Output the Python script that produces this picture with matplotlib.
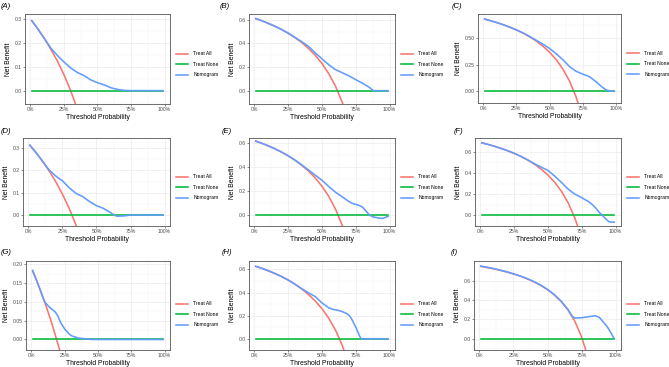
import numpy as np
import matplotlib
matplotlib.use("Agg")
import matplotlib.pyplot as plt
from matplotlib.ticker import MultipleLocator, FixedLocator

plt.rcParams['font.family'] = ['Liberation Sans', 'DejaVu Sans']

# ---------------- data ----------------
labels = ["(A)", "(B)", "(C)", "(D)", "(E)", "(F)", "(G)", "(H)", "(I)"]
series_names = ["Treat All", "Treat None", "Nomogram"]

# Treat All curves
all_A_x = [0.01, 0.05, 0.10, 0.15, 0.20, 0.25, 0.30, 0.35]
all_A_y = [0.293, 0.263, 0.222, 0.176, 0.125, 0.067, 0.0, -0.077]
all_B_x = [0.01, 0.05, 0.10, 0.15, 0.20, 0.25, 0.30, 0.35, 0.40, 0.45, 0.50, 0.55, 0.60, 0.65, 0.68]
all_B_y = [0.611, 0.595, 0.572, 0.547, 0.519, 0.487, 0.450, 0.408, 0.358, 0.300, 0.230, 0.144, 0.038, -0.100, -0.203]
all_C_x = [0.01, 0.05, 0.10, 0.15, 0.20, 0.25, 0.30, 0.35, 0.40, 0.45, 0.50, 0.55, 0.60, 0.65, 0.70, 0.73]
all_C_y = [0.682, 0.668, 0.650, 0.629, 0.606, 0.580, 0.550, 0.515, 0.475, 0.427, 0.370, 0.300, 0.2125, 0.100, -0.050, -0.167]
all_D_x = [0.01, 0.05, 0.10, 0.15, 0.20, 0.25, 0.30, 0.35, 0.38]
all_D_y = [0.313, 0.284, 0.244, 0.200, 0.150, 0.093, 0.029, -0.046, -0.097]
all_E_x = [0.01, 0.05, 0.10, 0.15, 0.20, 0.25, 0.30, 0.35, 0.40, 0.45, 0.50, 0.55, 0.60, 0.65, 0.68]
all_E_y = [0.616, 0.600, 0.578, 0.553, 0.525, 0.493, 0.457, 0.415, 0.367, 0.309, 0.240, 0.156, 0.050, -0.086, -0.188]
all_F_x = [0.01, 0.05, 0.10, 0.15, 0.20, 0.25, 0.30, 0.35, 0.40, 0.45, 0.50, 0.55, 0.60, 0.65, 0.70, 0.73]
all_F_y = [0.687, 0.674, 0.656, 0.635, 0.613, 0.587, 0.557, 0.523, 0.483, 0.436, 0.380, 0.311, 0.225, 0.114, -0.033, -0.148]
all_G_x = [0.01, 0.05, 0.10, 0.15, 0.20, 0.22]
all_G_y = [0.182, 0.147, 0.100, 0.047, -0.0125, -0.038]
all_H_x = [0.01, 0.05, 0.10, 0.15, 0.20, 0.25, 0.30, 0.35, 0.40, 0.45, 0.50, 0.55, 0.60, 0.65, 0.68]
all_H_y = [0.626, 0.611, 0.589, 0.565, 0.538, 0.507, 0.471, 0.431, 0.383, 0.327, 0.260, 0.178, 0.075, -0.057, -0.156]
all_I_x = [0.01, 0.05, 0.10, 0.15, 0.20, 0.25, 0.30, 0.35, 0.40, 0.45, 0.50, 0.55, 0.60, 0.65, 0.70, 0.75, 0.78, 0.80]
all_I_y = [0.752, 0.742, 0.728, 0.712, 0.694, 0.673, 0.650, 0.623, 0.592, 0.555, 0.510, 0.456, 0.388, 0.300, 0.183, 0.020, -0.114, -0.225]

# Treat None
none_x = [0.01, 0.99]
none_y = [0.0, 0.0]

# Nomogram curves
nomo_A_x = [0.01, 0.05, 0.10, 0.15, 0.20, 0.25, 0.30, 0.35, 0.40, 0.45, 0.50, 0.55, 0.60, 0.65, 0.70, 0.75, 0.99]
nomo_A_y = [0.293, 0.263, 0.222, 0.180, 0.148, 0.120, 0.095, 0.076, 0.063, 0.045, 0.033, 0.024, 0.012, 0.005, 0.001, 0.0, 0.0]
nomo_B_x = [0.01, 0.05, 0.10, 0.15, 0.20, 0.25, 0.30, 0.35, 0.40, 0.45, 0.50, 0.55, 0.60, 0.65, 0.70, 0.75, 0.80, 0.85, 0.88, 0.99]
nomo_B_y = [0.611, 0.595, 0.572, 0.547, 0.519, 0.488, 0.452, 0.415, 0.375, 0.320, 0.270, 0.220, 0.178, 0.152, 0.125, 0.093, 0.063, 0.028, 0.0, 0.0]
nomo_C_x = [0.01, 0.05, 0.10, 0.15, 0.20, 0.25, 0.30, 0.35, 0.40, 0.45, 0.50, 0.55, 0.60, 0.65, 0.70, 0.75, 0.80, 0.85, 0.90, 0.93, 0.96, 0.99]
nomo_C_y = [0.682, 0.668, 0.650, 0.629, 0.606, 0.580, 0.551, 0.518, 0.482, 0.445, 0.405, 0.355, 0.300, 0.235, 0.190, 0.163, 0.140, 0.092, 0.038, 0.012, 0.002, 0.0]
nomo_D_x = [0.01, 0.05, 0.10, 0.15, 0.20, 0.25, 0.30, 0.35, 0.40, 0.45, 0.50, 0.55, 0.60, 0.63, 0.65, 0.70, 0.75, 0.99]
nomo_D_y = [0.313, 0.284, 0.244, 0.203, 0.175, 0.153, 0.122, 0.097, 0.082, 0.060, 0.042, 0.030, 0.012, 0.0, -0.005, -0.004, 0.0, 0.0]
nomo_E_x = [0.01, 0.05, 0.10, 0.15, 0.20, 0.25, 0.30, 0.35, 0.40, 0.45, 0.50, 0.55, 0.60, 0.65, 0.70, 0.73, 0.77, 0.80, 0.83, 0.85, 0.88, 0.92, 0.95, 0.98, 0.99]
nomo_E_y = [0.616, 0.600, 0.578, 0.553, 0.525, 0.494, 0.458, 0.418, 0.376, 0.332, 0.290, 0.238, 0.190, 0.152, 0.112, 0.095, 0.083, 0.066, 0.028, 0.0, -0.016, -0.025, -0.028, -0.014, -0.010]
nomo_F_x = [0.01, 0.05, 0.10, 0.15, 0.20, 0.25, 0.30, 0.35, 0.40, 0.45, 0.50, 0.55, 0.60, 0.65, 0.70, 0.75, 0.80, 0.83, 0.85, 0.88, 0.90, 0.93, 0.95, 0.97, 0.99]
nomo_F_y = [0.687, 0.674, 0.656, 0.635, 0.613, 0.587, 0.558, 0.525, 0.488, 0.455, 0.425, 0.370, 0.310, 0.245, 0.198, 0.165, 0.128, 0.097, 0.072, 0.024, 0.0, -0.040, -0.062, -0.067, -0.067]
nomo_G_x = [0.01, 0.05, 0.10, 0.13, 0.15, 0.18, 0.20, 0.22, 0.25, 0.28, 0.30, 0.35, 0.40, 0.45, 0.99]
nomo_G_y = [0.184, 0.148, 0.100, 0.088, 0.082, 0.073, 0.062, 0.045, 0.028, 0.016, 0.010, 0.004, 0.002, 0.0, 0.0]
nomo_H_x = [0.01, 0.05, 0.10, 0.15, 0.20, 0.25, 0.30, 0.35, 0.40, 0.45, 0.50, 0.55, 0.58, 0.62, 0.65, 0.68, 0.70, 0.72, 0.75, 0.78, 0.79, 0.99]
nomo_H_y = [0.626, 0.611, 0.589, 0.565, 0.538, 0.508, 0.472, 0.433, 0.397, 0.365, 0.310, 0.268, 0.255, 0.246, 0.235, 0.220, 0.205, 0.170, 0.100, 0.020, 0.0, 0.0]
nomo_I_x = [0.01, 0.05, 0.10, 0.15, 0.20, 0.25, 0.30, 0.35, 0.40, 0.45, 0.50, 0.55, 0.60, 0.65, 0.68, 0.70, 0.75, 0.80, 0.85, 0.88, 0.90, 0.93, 0.95, 0.97, 0.99]
nomo_I_y = [0.755, 0.745, 0.730, 0.714, 0.696, 0.675, 0.652, 0.625, 0.594, 0.557, 0.512, 0.458, 0.390, 0.305, 0.235, 0.215, 0.218, 0.228, 0.238, 0.222, 0.190, 0.140, 0.100, 0.050, 0.0]

all_x = [all_A_x, all_B_x, all_C_x, all_D_x, all_E_x, all_F_x, all_G_x, all_H_x, all_I_x]
all_y = [all_A_y, all_B_y, all_C_y, all_D_y, all_E_y, all_F_y, all_G_y, all_H_y, all_I_y]
nomo_x = [nomo_A_x, nomo_B_x, nomo_C_x, nomo_D_x, nomo_E_x, nomo_F_x, nomo_G_x, nomo_H_x, nomo_I_x]
nomo_y = [nomo_A_y, nomo_B_y, nomo_C_y, nomo_D_y, nomo_E_y, nomo_F_y, nomo_G_y, nomo_H_y, nomo_I_y]

yticks = [
    [0.0, 0.1, 0.2, 0.3],
    [0.0, 0.2, 0.4, 0.6],
    [0.0, 0.25, 0.5],
    [0.0, 0.1, 0.2, 0.3],
    [0.0, 0.2, 0.4, 0.6],
    [0.0, 0.2, 0.4, 0.6],
    [0.0, 0.05, 0.10, 0.15, 0.20],
    [0.0, 0.2, 0.4, 0.6],
    [0.0, 0.2, 0.4, 0.6],
]
ytick_fmt = ["%.1f", "%.1f", "%.2f", "%.1f", "%.1f", "%.1f", "%.2f", "%.1f", "%.1f"]
xticks = [0.0, 0.25, 0.5, 0.75, 1.0]
xtick_labels = ["0%", "25%", "50%", "75%", "100%"]

# ---------------- layout ----------------
W, H = 669, 367
fig = plt.figure(figsize=(W / 100, H / 100), dpi=100)

# axes frames in pixels: left, top, right, bottom
frames = [
    (25, 14, 170, 104), (249, 14, 395, 104), (478, 14, 621, 103),
    (23, 138, 170, 226), (249, 138, 395, 226), (475, 138, 621, 226),
    (26, 261, 170, 350), (249, 261, 395, 350), (474, 261, 621, 350),
]
ylims = [
    (-0.056, 0.321), (-0.113, 0.65), (-0.11, 0.73),
    (-0.049, 0.345), (-0.091, 0.642), (-0.104, 0.733),
    (-0.028, 0.209), (-0.096, 0.672), (-0.118, 0.808),
]
title_pos = [(1, 6), (220, 6), (452, 6), (1, 131), (222, 131), (454, 131), (1, 253), (222, 253), (451, 253)]
legend_y = [0.44, 0.44, 0.44, 0.44, 0.44, 0.44, 0.40, 0.40, 0.40]

c_all = "#F8766D"
c_none = "#00BA38"
c_nomo = "#619CFF"

for i in range(9):
    l, t, r, b = frames[i]
    ax = fig.add_axes([l / W, 1 - b / H, (r - l) / W, (b - t) / H])
    ax.plot(all_x[i], all_y[i], color=c_all, lw=1.15, label=series_names[0])
    ax.plot(none_x, none_y, color=c_none, lw=1.15, label=series_names[1])
    ax.plot(nomo_x[i], nomo_y[i], color=c_nomo, lw=1.15, label=series_names[2])
    ax.set_xlim(-0.04, 1.04)
    ax.set_ylim(*ylims[i])
    ax.xaxis.set_major_locator(FixedLocator(xticks))
    ax.set_xticklabels(xtick_labels)
    ax.xaxis.set_minor_locator(MultipleLocator(0.125))
    yt = yticks[i]
    ax.yaxis.set_major_locator(FixedLocator(yt))
    ax.set_yticklabels([ytick_fmt[i] % v for v in yt])
    step = yt[1] - yt[0]
    ax.yaxis.set_minor_locator(FixedLocator([yt[0] - step / 2] + [v + step / 2 for v in yt]))
    ax.grid(True, which='major', color='#EBEBEB', lw=0.5)
    ax.grid(True, which='minor', color='#F4F4F4', lw=0.3)
    ax.set_axisbelow(True)
    ax.tick_params(which='major', length=1.5, width=0.4, color='#333333', labelsize=3.7,
                   labelcolor='#4D4D4D', pad=1.0)
    ax.tick_params(which='minor', length=0)
    for s in ax.spines.values():
        s.set_color('#555555')
        s.set_linewidth(0.6)
    ax.set_xlabel("Threshold Probability", fontsize=4.9, labelpad=1.0)
    ax.set_ylabel("Net Benefit", fontsize=4.9, labelpad=1.5)
    ax.legend(loc='center left', bbox_to_anchor=(1.02, legend_y[i]), frameon=False,
              fontsize=3.6, handlelength=2.4, handletextpad=1.0, labelspacing=1.1,
              borderaxespad=0.3)
    tx, ty = title_pos[i]
    fig.text(tx / W, 1 - ty / H, labels[i], fontsize=5.5, style='italic',
             ha='left', va='center')

fig.savefig("out.png", dpi=100)
